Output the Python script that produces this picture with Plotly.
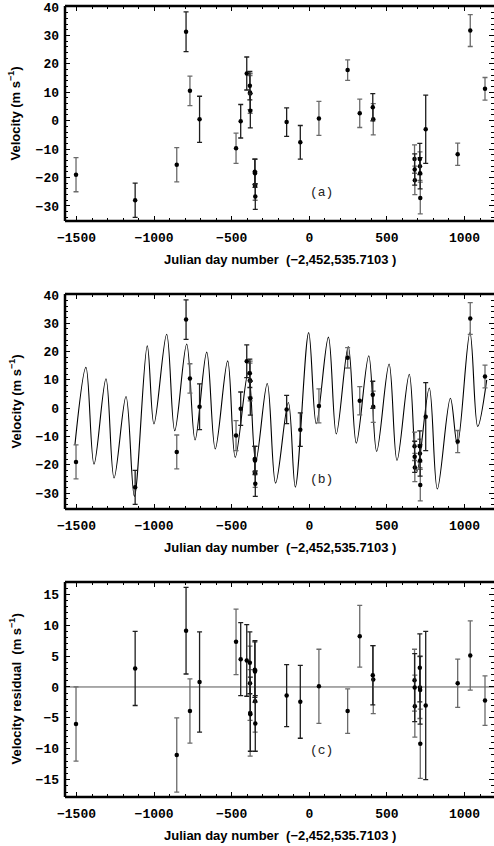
import plotly.graph_objects as go

# ---------------- data ----------------
days = [-1503, -1122, -854, -794, -769, -707, -472, -442, -403,
        -383, -382, -381, -380, -351, -350, -349, -348,
        -146, -58, 62, 247, 325, 409, 412,
        678, 679, 680, 712, 713, 714, 715,
        750, 956, 1037, 1132]

velocity = [-19.0, -28.0, -15.5, 31.3, 10.5, 0.5, -9.7, -0.2, 16.6,
            12.3, 9.9, 9.6, 3.5, -18.0, -18.5, -23.0, -26.7,
            -0.5, -7.6, 0.8, 17.8, 2.6, 4.7, 0.5,
            -13.5, -17.2, -21.0, -13.5, -16.0, -18.5, -27.2,
            -3.0, -11.8, 31.7, 11.2]

velocity_err = [6.0, 6.0, 6.0, 7.0, 5.2, 8.1, 5.3, 5.9, 5.8,
                5.0, 6.0, 7.0, 6.0, 4.5, 5.0, 5.0, 4.5,
                5.0, 5.9, 6.0, 3.6, 5.0, 4.8, 5.5,
                5.0, 5.5, 5.0, 5.5, 5.0, 5.5, 5.6,
                12.0, 3.9, 5.6, 4.0]

residual = [-6.0, 3.0, -11.0, 9.1, -3.9, 0.8, 7.3, 4.5, 4.3,
            3.9, 0.6, -4.2, -4.4, 2.8, 2.5, -2.3, -5.9,
            -1.4, -2.4, 0.1, -3.9, 8.2, 1.9, 1.2,
            1.1, -0.1, -3.1, 3.1, -0.1, -0.5, -9.2,
            -3.0, 0.6, 5.1, -2.2]

group = ["g", "k", "g", "k", "g", "k", "g", "k", "k",
         "k", "g", "g", "k", "k", "k", "g", "k",
         "k", "k", "g", "g", "g", "k", "g",
         "g", "k", "g", "k", "g", "k", "g",
         "k", "g", "g", "g"]

# extrema of the fitted model curve (panel b)
model_days = [-1510, -1439, -1387, -1310, -1258, -1181, -1127, -1044, -1001,
              -919, -867, -790, -736, -661, -606, -526, -477, -393, -345,
              -271, -217, -135, -90, -4, 45, 123, 174, 251, 303, 383, 434,
              514, 565, 644, 694, 773, 825, 909, 954, 1035, 1085, 1143]
model_velocity = [-13.0, 14.4, -19.8, 10.4, -24.7, 4.1, -31.2, 22.0, -5.6,
                  26.1, -8.0, 22.7, -11.2, 19.8, -14.4, 16.7, -17.4, 12.9, -18.8,
                  8.7, -26.5, 2.0, -27.9, 26.7, -5.5, 25.1, -9.1, 21.8, -12.4, 18.5, -15.3,
                  15.6, -18.5, 12.0, -22.4, 7.1, -28.6, 3.5, -12.9, 26.7, -6.5, 10.0]

x_tickvals = [-1500, -1000, -500, 0, 500, 1000]
v_tickvals = [40, 30, 20, 10, 0, -10, -20, -30]
r_tickvals = [15, 10, 5, 0, -5, -10, -15]

x_title = "Julian day number  (\u22122,452,535.7103 )"
v_title = "Velocity (m s<sup>\u22121</sup>)"
r_title = "Velocity residual  (m s<sup>\u22121</sup>)"
panel_labels = ["(a)", "(b)", "(c)"]

# ---------------- figure ----------------
W, H = 494, 846
ML, MR, MT, MB = 65, 0, 6, 49
PH = H - MT - MB


def dom(top_px, bot_px):
    return [(H - MB - bot_px) / PH, (H - MB - top_px) / PH]


doms = [dom(6, 221), dom(294, 509), dom(582, 797)]
yranges = [[-35.3, 40.35], [-35.65, 40.35], [-17.8, 16.98]]
xrange_ = [-1574, 1190]

fig = go.Figure()

colors = {"k": "#1e1e1e", "g": "#6a6a6a"}


def add_points(xa, ya, yvals):
    for g in ["g", "k"]:
        idx = [i for i, gg in enumerate(group) if gg == g]
        fig.add_trace(go.Scatter(
            x=[days[i] for i in idx], y=[yvals[i] for i in idx],
            error_y=dict(type="data", array=[velocity_err[i] for i in idx],
                         color=colors[g], thickness=1.3, width=2.5),
            mode="markers", marker=dict(color="black", size=4.5),
            xaxis=xa, yaxis=ya, showlegend=False, hoverinfo="skip"))


add_points("x", "y", velocity)
fig.add_trace(go.Scatter(x=model_days, y=model_velocity, mode="lines",
                         line=dict(color="black", width=1.1, shape="spline", smoothing=1.0),
                         xaxis="x2", yaxis="y2", showlegend=False, hoverinfo="skip"))
add_points("x2", "y2", velocity)
add_points("x3", "y3", residual)

tickfont = dict(family="Liberation Mono", size=13, color="black", weight="bold")
titlefont = dict(family="Liberation Sans", size=13, color="black", weight="bold")

layout = dict(width=W, height=H, margin=dict(l=ML, r=MR, t=MT, b=MB),
              paper_bgcolor="white", plot_bgcolor="white", showlegend=False)

ytv = [v_tickvals, v_tickvals, r_tickvals]
for k in range(3):
    sx = "" if k == 0 else str(k + 1)
    layout["xaxis" + sx] = dict(
        domain=[0, 1], anchor="y" + sx, range=xrange_, tickvals=x_tickvals,
        ticks="inside", ticklen=5, tickwidth=1, tickcolor="black", mirror="ticks",
        showline=False, showgrid=False, zeroline=False, tickfont=tickfont,
        ticklabelstandoff=7,
        minor=dict(dtick=100, tick0=0, ticks="inside", ticklen=3, tickcolor="black", showgrid=False))
    layout["yaxis" + sx] = dict(
        domain=doms[k], anchor="x" + sx, range=yranges[k], tickvals=ytv[k],
        ticks="inside", ticklen=5, tickwidth=1, tickcolor="black", mirror="ticks",
        showline=False, showgrid=False, zeroline=False, tickfont=tickfont,
        ticklabelstandoff=5,
        minor=dict(dtick=2 if k < 2 else 1, tick0=0, ticks="inside", ticklen=3,
                   tickcolor="black", showgrid=False))

fig.update_layout(**layout)

shapes = []
annotations = []
title_ys = [259, 547, 835]
ytitles = [v_title, v_title, r_title]
label_pos = [(80, -25.3), (80, -25.3), (80, -10.3)]
for k in range(3):
    sx = "" if k == 0 else str(k + 1)
    xd, yd = "x" + sx + " domain", "y" + sx + " domain"
    for (x0, y0, x1, y1) in [(0, 0, 0, 1), (0, 1, 1, 1), (0, 0, 1, 0)]:
        shapes.append(dict(type="line", xref=xd, yref=yd, x0=x0, y0=y0, x1=x1, y1=y1,
                           line=dict(color="black", width=2.5), layer="above"))
    annotations.append(dict(text=x_title, xref="paper", yref="paper",
                            x=(280 - ML) / (W - ML - MR), y=(H - MB - title_ys[k]) / PH,
                            xanchor="center", yanchor="middle", showarrow=False, font=titlefont))
    annotations.append(dict(text=ytitles[k], xref="paper", yref="paper",
                            x=(15 - ML) / (W - ML - MR), y=(doms[k][0] + doms[k][1]) / 2,
                            xanchor="center", yanchor="middle", textangle=-90,
                            showarrow=False, font=titlefont))
    annotations.append(dict(text=panel_labels[k], xref="x" + sx, yref="y" + sx,
                            x=label_pos[k][0], y=label_pos[k][1], showarrow=False,
                            font=dict(family="Liberation Mono", size=13, color="#222222")))

shapes.append(dict(type="line", xref="x3 domain", yref="y3", x0=0, x1=1, y0=0, y1=0,
                   line=dict(color="#555555", width=1), layer="below"))

fig.update_layout(shapes=shapes, annotations=annotations)
fig.write_html("out.html")
